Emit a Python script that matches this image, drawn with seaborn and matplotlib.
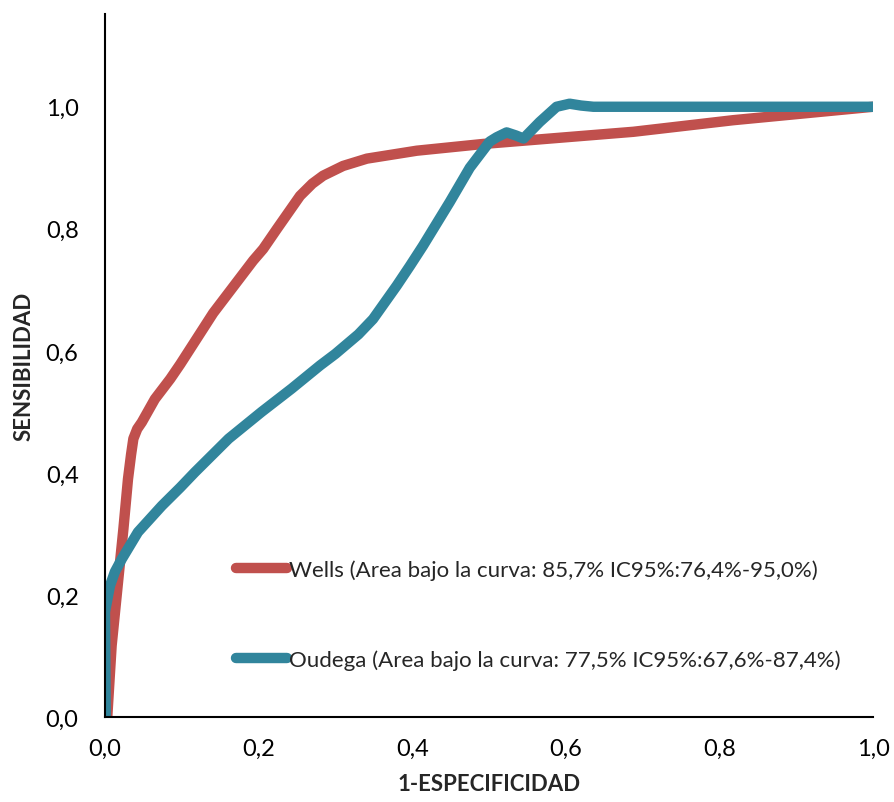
import pandas as pd
import matplotlib.pyplot as plt
import seaborn as sns

# curva ROC de Wells
wells_x = [0.003, 0.0087, 0.0174, 0.024, 0.030, 0.034, 0.037, 0.042, 0.048, 0.065,
           0.085, 0.098, 0.141, 0.193, 0.206, 0.224, 0.254, 0.270, 0.284, 0.310,
           0.341, 0.406, 0.492, 0.688, 0.818, 1.0]
wells_y = [0.0, 0.117, 0.226, 0.308, 0.390, 0.430, 0.456, 0.472, 0.483, 0.521,
           0.554, 0.578, 0.662, 0.748, 0.767, 0.800, 0.854, 0.874, 0.887, 0.903,
           0.915, 0.928, 0.939, 0.959, 0.978, 1.0]

# curva ROC de Oudega
oudega_x = [0.001, 0.0, 0.0065, 0.013, 0.022, 0.043, 0.074, 0.098, 0.117, 0.161,
            0.204, 0.243, 0.280, 0.300, 0.330, 0.349, 0.380, 0.397, 0.414, 0.449,
            0.475, 0.501, 0.510, 0.523, 0.535, 0.545, 0.566, 0.588, 0.605, 0.620,
            0.636, 1.0]
oudega_y = [0.0, 0.172, 0.215, 0.238, 0.259, 0.303, 0.346, 0.376, 0.401, 0.456,
            0.500, 0.538, 0.576, 0.595, 0.627, 0.652, 0.707, 0.739, 0.772, 0.844,
            0.900, 0.943, 0.950, 0.958, 0.953, 0.948, 0.975, 1.0, 1.005, 1.002,
            1.0, 1.0]

labels = ["Wells (Area bajo la curva: 85,7% IC95%:76,4%-95,0%)",
          "Oudega (Area bajo la curva: 77,5% IC95%:67,6%-87,4%)"]
colors = ["#C0504D", "#31859C"]
ticks = [0, 0.2, 0.4, 0.6, 0.8, 1.0]
tick_labels = ["0,0", "0,2", "0,4", "0,6", "0,8", "1,0"]

df = pd.concat([
    pd.DataFrame({"x": wells_x, "y": wells_y, "curva": labels[0]}),
    pd.DataFrame({"x": oudega_x, "y": oudega_y, "curva": labels[1]}),
])

sns.set_style("white")
plt.rcParams["font.family"] = ["Lato", "DejaVu Sans"]

fig = plt.figure(figsize=(8.94, 8.03), dpi=100)
ax = fig.add_axes([0.1174, 0.1059, 0.8591, 0.8754])

sns.lineplot(data=df, x="x", y="y", hue="curva", palette=colors, sort=False,
             estimator=None, linewidth=7.5, ax=ax,
             solid_capstyle="round", solid_joinstyle="round")

ax.set_xlim(0, 1.0)
ax.set_ylim(0, 1.152)
ax.set_xticks(ticks)
ax.set_yticks(ticks)
ax.set_xticklabels(tick_labels)
ax.set_yticklabels(tick_labels)
ax.tick_params(axis="both", length=0, labelsize=17, colors="black")
ax.tick_params(axis="y", pad=19)
ax.tick_params(axis="x", pad=15)

for s in ["top", "right"]:
    ax.spines[s].set_visible(False)
for s in ["left", "bottom"]:
    ax.spines[s].set_color("black")
    ax.spines[s].set_linewidth(1.5)

ax.set_xlabel("1-ESPECIFICIDAD", fontsize=16, fontweight="bold", labelpad=10)
ax.set_ylabel("SENSIBILIDAD", fontsize=16, fontweight="bold", labelpad=8)

ax.legend(loc="center left", bbox_to_anchor=(0.17, 0.1458), frameon=False,
          fontsize=16, handlelength=2.3, handletextpad=0.12, labelspacing=3.1,
          borderpad=0, borderaxespad=0)

fig.savefig("out.png", dpi=100)
